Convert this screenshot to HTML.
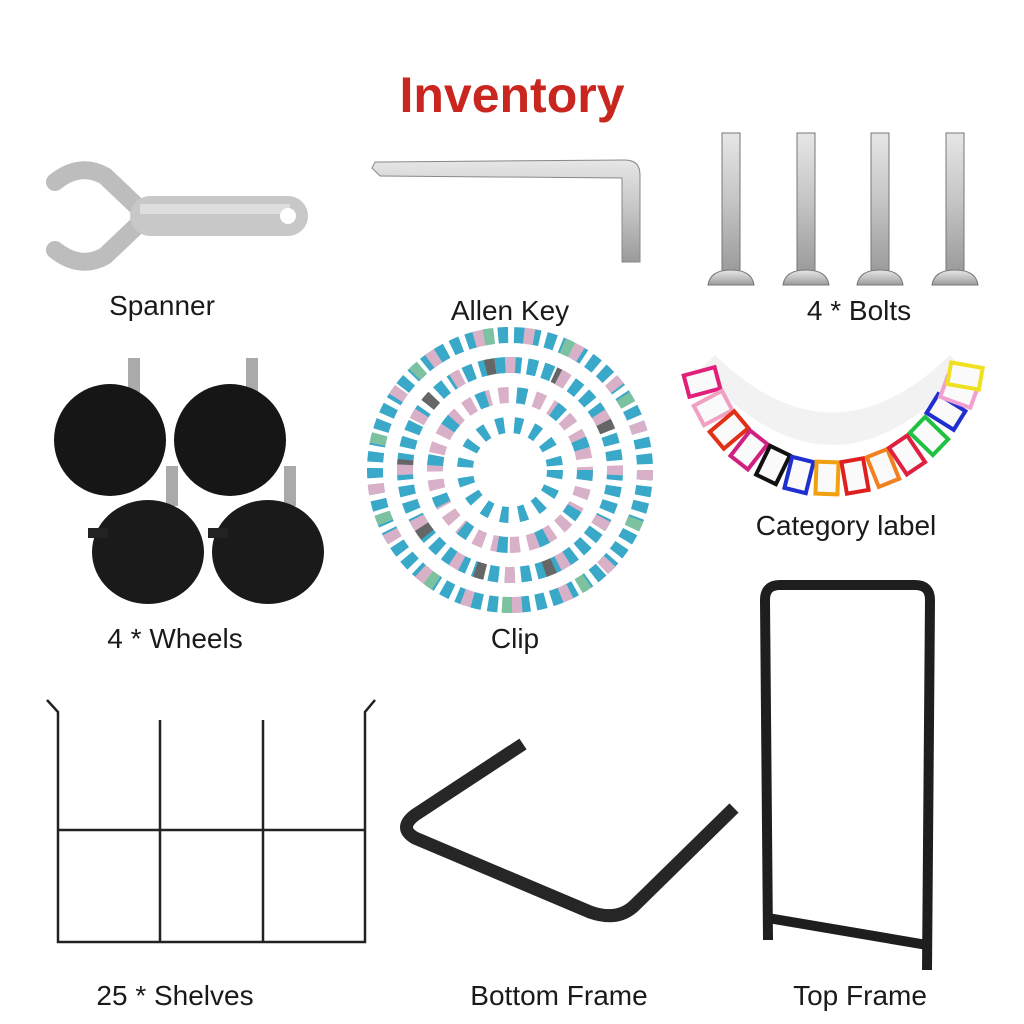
<!DOCTYPE html>
<html><head><meta charset="utf-8"><style>
html,body{margin:0;padding:0;background:#fff}
body{width:1024px;height:1024px;position:relative;overflow:hidden;font-family:"Liberation Sans",sans-serif}
.t{position:absolute;font-size:28px;color:#1a1a1a;transform:translateX(-50%);white-space:nowrap}
</style></head><body>
<svg width="1024" height="1024" style="position:absolute;left:0;top:0">
<defs>
<linearGradient id="met" x1="0" y1="0" x2="0" y2="1"><stop offset="0" stop-color="#e6e6e6"/><stop offset=".5" stop-color="#c4c4c4"/><stop offset="1" stop-color="#9a9a9a"/></linearGradient>
</defs>
<!-- spanner -->
<g fill="none" stroke="#bdbdbd" stroke-linecap="round" stroke-linejoin="round">
<path d="M55,182 Q80,162 105,176 L145,214" stroke-width="18"/>
<path d="M55,250 Q80,270 105,256 L145,218" stroke-width="18"/>
</g>
<rect x="130" y="196" width="178" height="40" rx="20" fill="#c8c8c8"/>
<rect x="140" y="204" width="150" height="10" fill="#dedede"/>
<circle cx="288" cy="216" r="8" fill="#fff"/>
<!-- allen key -->
<path d="M375,162 L625,160 Q640,160 640,175 L640,262 L622,262 L622,178 L380,176 L372,168Z" fill="url(#met)" stroke="#888"/>
<!-- bolts -->
<g fill="url(#met)" stroke="#777">
<rect x="722" y="133" width="18" height="140"/><path d="M708,285 Q710,270 731,270 Q752,270 754,285Z"/>
<rect x="797" y="133" width="18" height="140"/><path d="M783,285 Q785,270 806,270 Q827,270 829,285Z"/>
<rect x="871" y="133" width="18" height="140"/><path d="M857,285 Q859,270 880,270 Q901,270 903,285Z"/>
<rect x="946" y="133" width="18" height="140"/><path d="M932,285 Q934,270 955,270 Q976,270 978,285Z"/>
</g>
<!-- wheels -->
<g>
<rect x="128" y="358" width="12" height="40" fill="#aaa"/><rect x="246" y="358" width="12" height="40" fill="#aaa"/>
<rect x="166" y="466" width="12" height="40" fill="#aaa"/><rect x="284" y="466" width="12" height="40" fill="#aaa"/>
<ellipse cx="110" cy="440" rx="56" ry="56" fill="#161616"/><ellipse cx="230" cy="440" rx="56" ry="56" fill="#161616"/>
<ellipse cx="148" cy="552" rx="56" ry="52" fill="#1a1a1a"/><ellipse cx="268" cy="552" rx="56" ry="52" fill="#1a1a1a"/>
<rect x="88" y="528" width="20" height="10" fill="#222"/><rect x="208" y="528" width="20" height="10" fill="#222"/>
</g>
<!-- clips -->
<g fill="none" stroke-width="16">
<circle cx="510" cy="470" r="135" stroke="#3aa8c8" stroke-dasharray="10 6"/>
<circle cx="510" cy="470" r="135" stroke="#d8b0c8" stroke-dasharray="10 40"/>
<circle cx="510" cy="470" r="135" stroke="#7cc2a0" stroke-dasharray="10 70" stroke-dashoffset="30"/>
<circle cx="510" cy="470" r="105" stroke="#3aa8c8" stroke-dasharray="10 6"/>
<circle cx="510" cy="470" r="105" stroke="#666" stroke-dasharray="10 60" stroke-dashoffset="20"/>
<circle cx="510" cy="470" r="105" stroke="#d8b0c8" stroke-dasharray="10 45" stroke-dashoffset="5"/>
<circle cx="510" cy="470" r="75" stroke="#d8b0c8" stroke-dasharray="10 8"/>
<circle cx="510" cy="470" r="75" stroke="#3aa8c8" stroke-dasharray="10 30"/>
<circle cx="510" cy="470" r="45" stroke="#3aa8c8" stroke-dasharray="8 10"/>
</g>
<!-- category labels -->
<path d="M700,370 Q832,520 965,370 L950,355 Q832,470 715,355Z" fill="#f2f2f2"/>
<g fill="#fafafa" stroke-width="4">
<rect x="-11" y="-16" width="22" height="32" stroke="#e0207a" transform="translate(702,382) rotate(75)"/>
<rect x="-11" y="-16" width="22" height="32" stroke="#f0a0c0" transform="translate(713,408) rotate(62)"/>
<rect x="-11" y="-16" width="22" height="32" stroke="#e03018" transform="translate(729,430) rotate(50)"/>
<rect x="-11" y="-16" width="22" height="32" stroke="#d02080" transform="translate(749,450) rotate(38)"/>
<rect x="-11" y="-16" width="22" height="32" stroke="#111" transform="translate(773,465) rotate(26)"/>
<rect x="-11" y="-16" width="22" height="32" stroke="#2030d0" transform="translate(799,475) rotate(14)"/>
<rect x="-11" y="-16" width="22" height="32" stroke="#f0a010" transform="translate(827,478) rotate(2)"/>
<rect x="-11" y="-16" width="22" height="32" stroke="#e02020" transform="translate(855,476) rotate(-10)"/>
<rect x="-11" y="-16" width="22" height="32" stroke="#f08020" transform="translate(883,468) rotate(-22)"/>
<rect x="-11" y="-16" width="22" height="32" stroke="#e02040" transform="translate(907,455) rotate(-34)"/>
<rect x="-11" y="-16" width="22" height="32" stroke="#20c040" transform="translate(929,436) rotate(-46)"/>
<rect x="-11" y="-16" width="22" height="32" stroke="#2030d0" transform="translate(946,412) rotate(-58)"/>
<rect x="-11" y="-16" width="22" height="32" stroke="#f0a0d0" transform="translate(959,392) rotate(-70)"/>
<rect x="-11" y="-16" width="22" height="32" stroke="#f0e020" transform="translate(965,376) rotate(-80)"/>
</g>
<!-- shelves -->
<g fill="none" stroke="#222" stroke-width="2.5">
<path d="M47,700 L58,712 L58,942 L365,942 L365,712 L375,700"/>
<path d="M58,830 H365 M160,720 V942 M263,720 V942"/>
</g>
<!-- bottom frame -->
<path d="M523,744 L415,815 Q398,828 415,838 L590,912 Q618,922 635,905 L734,808" fill="none" stroke="#262626" stroke-width="13" stroke-linejoin="round"/>
<!-- top frame -->
<path d="M768,940 L765,600 Q765,585 780,585 L915,585 Q930,585 930,600 L927,970" fill="none" stroke="#1e1e1e" stroke-width="10"/>
<path d="M768,918 L927,945" stroke="#1e1e1e" stroke-width="10"/>
</svg>
<div style="position:absolute;left:0;width:1024px;top:66px;text-align:center;font-size:50px;font-weight:bold;color:#c8261e">Inventory</div>
<div class="t" style="left:162px;top:290px">Spanner</div>
<div class="t" style="left:510px;top:295px">Allen Key</div>
<div class="t" style="left:859px;top:295px">4 * Bolts</div>
<div class="t" style="left:846px;top:510px">Category label</div>
<div class="t" style="left:175px;top:623px">4 * Wheels</div>
<div class="t" style="left:515px;top:623px">Clip</div>
<div class="t" style="left:175px;top:980px">25 * Shelves</div>
<div class="t" style="left:559px;top:980px">Bottom Frame</div>
<div class="t" style="left:860px;top:980px">Top Frame</div>
</body></html>
